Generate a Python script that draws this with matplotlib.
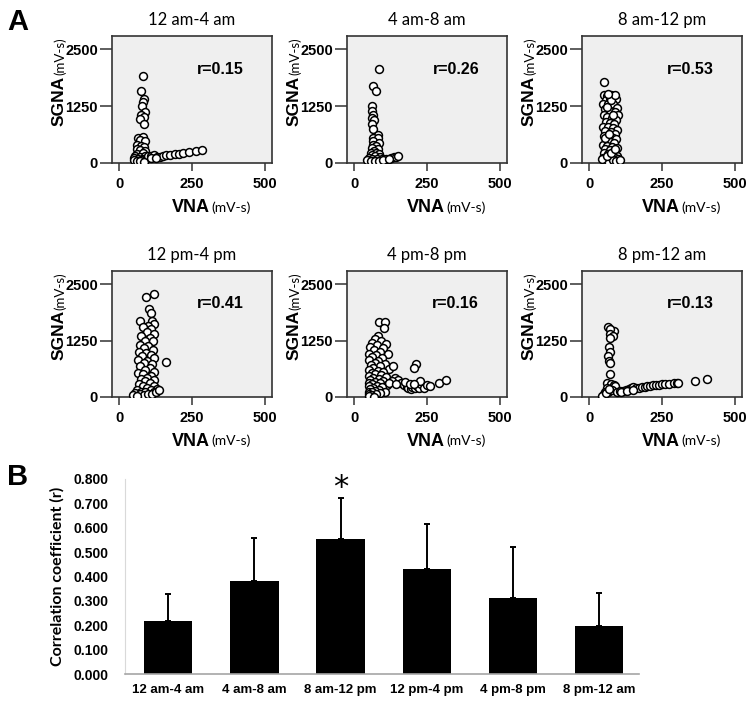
import numpy as np
import matplotlib.pyplot as plt

periods = ['12 am-4 am', '4 am-8 am', '8 am-12 pm', '12 pm-4 pm', '4 pm-8 pm', '8 pm-12 am']
r_labels = ['r=0.15', 'r=0.26', 'r=0.53', 'r=0.41', 'r=0.16', 'r=0.13']

# VNA / SGNA points (mV-s)
vna_1 = [80, 75, 85, 80, 78, 90, 75, 85, 70, 85, 65, 80, 70, 90, 60, 75, 85, 60, 70, 90,
         60, 80, 55, 70, 90, 50, 65, 80, 50, 60, 75, 95, 100, 110, 120, 130, 140, 150, 160,
         175, 190, 205, 220, 240, 265, 285, 70, 85, 110, 125]
sgna_1 = [1920, 1580, 1400, 1330, 1250, 1120, 1050, 1000, 960, 850, 560, 570, 500, 480, 400,
          380, 350, 300, 280, 270, 200, 220, 150, 130, 160, 100, 90, 80, 60, 50, 60, 100, 150,
          160, 170, 140, 130, 150, 170, 180, 200, 205, 220, 240, 260, 280, 40, 30, 120, 110]

vna_2 = [86, 64, 76, 62, 62, 64, 62, 68, 62, 64, 82, 66, 80, 64, 84, 66, 76, 62, 82, 68,
         58, 76, 86, 60, 72, 90, 50, 62, 78, 95, 45, 56, 70, 85, 110, 125, 135, 145, 150,
         100, 120]
sgna_2 = [2060, 1690, 1580, 1260, 1150, 1050, 980, 950, 850, 750, 620, 560, 540, 480, 450,
          400, 380, 330, 300, 270, 230, 220, 200, 180, 150, 140, 110, 90, 80, 80, 60, 40, 50,
          40, 90, 110, 130, 140, 150, 60, 80]

vna_3 = [52, 52, 62, 75, 85, 92, 58, 70, 48, 64, 80, 95, 55, 72, 88, 100, 50, 62, 78, 92,
         56, 70, 84, 48, 66, 82, 95, 54, 74, 88, 50, 64, 80, 92, 56, 72, 86, 48, 62, 78,
         94, 54, 70, 84, 50, 64, 80, 95, 48, 58, 72, 88, 100, 52, 66, 80, 92, 105, 45, 60,
         75, 90, 55, 68, 82, 60, 76, 90, 66]
sgna_3 = [1790, 1500, 1480, 1500, 1470, 1400, 1380, 1420, 1300, 1290, 1300, 1200, 1180, 1150,
          1120, 1050, 1050, 1000, 980, 950, 900, 880, 860, 800, 780, 760, 720, 700, 680, 640,
          600, 580, 560, 520, 480, 460, 440, 400, 380, 360, 330, 300, 280, 260, 220, 200, 180,
          160, 120, 100, 110, 100, 80, 60, 50, 60, 50, 60, 80, 150, 220, 300, 560, 640, 1050,
          1220, 1380, 1500, 1520]

vna_4 = [119, 93, 101, 109, 72, 113, 118, 100, 80, 110, 95, 120, 75, 105, 88, 115, 70, 100,
         84, 116, 68, 92, 108, 78, 120, 64, 96, 86, 112, 72, 104, 90, 118, 66, 80, 110, 96,
         74, 118, 88, 104, 68, 120, 82, 96, 130, 110, 62, 76, 90, 118, 55, 70, 84, 100, 112,
         48, 62, 125, 159, 135]
sgna_4 = [2290, 2215, 1945, 1870, 1690, 1690, 1620, 1580, 1550, 1500, 1450, 1400, 1350, 1300,
          1250, 1230, 1150, 1120, 1080, 1050, 1000, 980, 940, 900, 860, 820, 800, 760, 720,
          680, 640, 600, 560, 540, 500, 470, 430, 400, 380, 350, 310, 280, 250, 240, 200, 180,
          160, 150, 120, 110, 100, 80, 60, 50, 60, 70, 40, 30, 120, 770, 150]

vna_5 = [85, 104, 101, 80, 70, 92, 60, 110, 78, 55, 98, 68, 88, 52, 115, 75, 62, 95, 52, 82,
         70, 105, 56, 90, 66, 120, 52, 80, 100, 60, 72, 92, 52, 110, 64, 84, 54, 98, 72, 52,
         88, 62, 112, 78, 52, 96, 66, 54, 84, 72, 52, 104, 62, 90, 52, 76, 58, 52, 68, 134,
         211, 204, 140, 150, 160, 170, 180, 185, 195, 200, 210, 215, 222, 230, 240, 250, 262,
         175, 190, 225, 290, 315, 130, 120, 145, 205]
sgna_5 = [1665, 1665, 1527, 1350, 1280, 1250, 1200, 1180, 1150, 1100, 1080, 1040, 1000, 960,
          950, 920, 880, 860, 820, 800, 760, 740, 700, 680, 640, 620, 600, 580, 560, 540, 500,
          480, 460, 440, 420, 400, 380, 360, 340, 320, 300, 280, 270, 250, 240, 220, 200, 180,
          160, 140, 120, 110, 100, 90, 70, 60, 40, 20, 10, 697, 735, 640, 430, 380, 300, 260,
          220, 200, 180, 230, 190, 240, 210, 280, 200, 270, 250, 330, 290, 350, 308, 383, 350,
          300, 280, 280]

vna_6 = [66, 86, 70, 72, 80, 70, 68, 70, 66, 68, 72, 70, 60, 75, 85, 62, 90, 55, 65, 50,
         45, 58, 78, 68, 95, 105, 115, 125, 135, 145, 152, 160, 170, 180, 190, 200, 210, 220,
         230, 240, 250, 262, 275, 290, 300, 306, 363, 405, 110, 130, 150]
sgna_6 = [1555, 1452, 1500, 1400, 1350, 1300, 1100, 1000, 900, 800, 750, 500, 300, 280, 260,
          200, 250, 120, 100, 60, 30, 80, 150, 180, 120, 130, 140, 160, 170, 190, 220, 200,
          210, 220, 230, 240, 250, 255, 265, 270, 280, 290, 295, 305, 310, 308, 352, 405, 110,
          140, 160]

vna_all = [vna_1, vna_2, vna_3, vna_4, vna_5, vna_6]
sgna_all = [sgna_1, sgna_2, sgna_3, sgna_4, sgna_5, sgna_6]

# panel B: mean r and SD per period
r_mean = [0.218, 0.381, 0.553, 0.429, 0.310, 0.195]
r_sd = [0.110, 0.176, 0.169, 0.187, 0.210, 0.139]

W, H = 752, 704
fig = plt.figure(figsize=(W / 100, H / 100), dpi=100)

lefts = [112, 347, 582]
rows = [(36, 163), (271, 397)]

for i in range(6):
    px = lefts[i % 3]
    top, bot = rows[i // 3]
    ax = fig.add_axes([px / W, 1 - bot / H, 160 / W, (bot - top) / H])
    ax.set_facecolor('#efefef')
    ax.scatter(vna_all[i], sgna_all[i], s=32, facecolors='white', edgecolors='black',
               linewidths=1.1, zorder=3)
    ax.set_xlim(-25, 525)
    ax.set_ylim(0, 2790)
    ax.set_xticks([0, 250, 500])
    ax.set_yticks([0, 1250, 2500])
    for sp in ax.spines.values():
        sp.set_color('#333333')
        sp.set_linewidth(1.2)
    ax.tick_params(axis='y', length=9, width=1.1, color='#333333', pad=1)
    ax.tick_params(axis='x', length=6, width=1.1, color='#333333', pad=4)
    for lab in ax.get_xticklabels() + ax.get_yticklabels():
        lab.set_fontfamily('Liberation Sans')
        lab.set_fontweight('bold')
        lab.set_fontsize(10.5)
    ax.set_title(periods[i], fontsize=12, family='Lato', pad=8)
    ax.text(0.68, 0.74, r_labels[i], transform=ax.transAxes, ha='center', va='center',
            fontsize=11.5, fontweight='bold', family='Liberation Sans')
    ax.text(0.61, -0.35, 'VNA', transform=ax.transAxes, ha='right', va='center',
            fontsize=13, fontweight='bold', family='Liberation Sans')
    ax.text(0.62, -0.35, '(mV-s)', transform=ax.transAxes, ha='left', va='center',
            fontsize=10, family='Lato')
    ax.text(-0.33, 0.29, 'SGNA', transform=ax.transAxes, ha='center', va='bottom',
            rotation=90, fontsize=12.5, fontweight='bold', family='Liberation Sans')
    ax.text(-0.325, 0.69, '(mV-s)', transform=ax.transAxes, ha='center', va='bottom',
            rotation=90, fontsize=9.5, family='Lato')

# panel B
bx = fig.add_axes([125 / W, 1 - 674 / H, 514 / W, 195 / H])
pos = np.arange(len(periods))
bx.bar(pos, r_mean, width=0.56, color='black', zorder=2)
bx.errorbar(pos, r_mean, yerr=[np.zeros(len(r_sd)), r_sd], fmt='none', ecolor='black',
            elinewidth=1.4, capsize=2, capthick=1.4, zorder=1)
bx.set_xlim(-0.5, 5.46)
bx.set_ylim(0, 0.8)
bx.set_yticks(np.arange(0, 0.81, 0.1))
bx.set_yticklabels(['%.3f' % v for v in np.arange(0, 0.81, 0.1)])
bx.set_xticks(pos)
bx.set_xticklabels(periods)
bx.spines['top'].set_visible(False)
bx.spines['right'].set_visible(False)
bx.spines['left'].set_color('#d9d9d9')
bx.spines['bottom'].set_color('#a6a6a6')
bx.spines['bottom'].set_linewidth(1.2)
bx.tick_params(axis='both', length=0)
bx.tick_params(axis='y', pad=12)
bx.tick_params(axis='x', pad=7)
for lab in bx.get_yticklabels():
    lab.set_fontfamily('Liberation Sans')
    lab.set_fontweight('bold')
    lab.set_fontsize(10)
for lab in bx.get_xticklabels():
    lab.set_fontfamily('Liberation Sans')
    lab.set_fontweight('bold')
    lab.set_fontsize(9.5)
bx.set_ylabel('Correlation coefficient (r)', fontsize=11.5, fontweight='bold',
              family='Lato', labelpad=6)
bx.text(2, r_mean[2] + r_sd[2] + 0.045, '*', ha='center', va='center', fontsize=22)

fig.text(7 / W, 1 - 30 / H, 'A', fontsize=21, fontweight='bold', family='Liberation Sans')
fig.text(7 / W, 1 - 485 / H, 'B', fontsize=21, fontweight='bold', family='Liberation Sans')

fig.savefig('out.png', dpi=100)
